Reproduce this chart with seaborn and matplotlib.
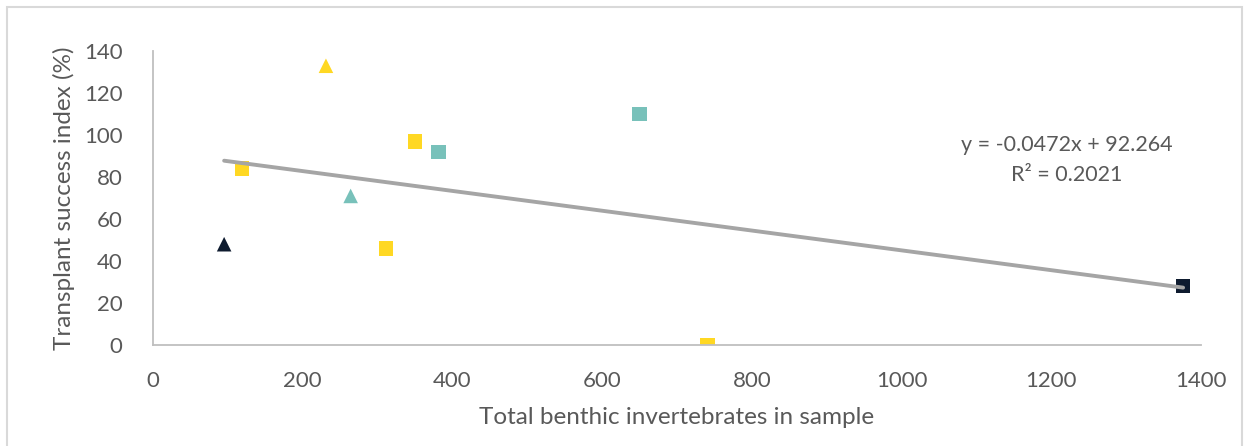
import numpy as np
import pandas as pd
import seaborn as sns
import matplotlib.pyplot as plt
from matplotlib.patches import Rectangle

# values
invertebrates = [95, 119, 231, 264, 311, 350, 381, 650, 741, 1376]
success_index = [48, 84, 133, 71, 46, 97, 92, 110, 0, 28]
site = ["dark", "yellow", "yellow", "teal", "yellow", "yellow", "teal", "teal", "yellow", "dark"]
shape = ["triangle", "square", "triangle", "triangle", "square", "square", "square", "square", "square", "square"]

slope = -0.0472
intercept = 92.264
r_squared = 0.2021

df = pd.DataFrame({"x": invertebrates, "y": success_index, "site": site, "shape": shape})

palette = {"yellow": "#FFD823", "teal": "#78C1BA", "dark": "#0E1B2F"}
markers = {"square": "s", "triangle": "^"}

sns.set_style("white")
plt.rcParams['font.family'] = ['Lato', 'DejaVu Sans']

fig = plt.figure(figsize=(12.44, 4.46), dpi=100)
ax = fig.add_axes([0.123, 0.2265, 0.8425, 0.659])

trend_x = np.array([min(invertebrates), max(invertebrates)])
trend = pd.DataFrame({"x": trend_x, "y": slope * trend_x + intercept})
sns.lineplot(data=trend, x="x", y="y", color="#A5A5A5", linewidth=2.8, ax=ax, zorder=3)

sns.scatterplot(data=df, x="x", y="y", hue="site", style="shape", palette=palette,
                markers=markers, s=110, linewidth=0, legend=False, ax=ax, zorder=2)

ax.set_xlim(0, 1400)
ax.set_ylim(0, 140)
ax.set_xticks(range(0, 1401, 200))
ax.set_yticks(range(0, 141, 20))
ax.tick_params(axis="both", length=0, labelsize=16, labelcolor="#595959")
ax.tick_params(axis="x", pad=19)
ax.tick_params(axis="y", pad=22)
for s in ["top", "right"]:
    ax.spines[s].set_visible(False)
for s in ["left", "bottom"]:
    ax.spines[s].set_color("#BFBFBF")
    ax.spines[s].set_linewidth(1.3)

ax.set_xlabel("Total benthic invertebrates in sample", fontsize=17.5, color="#595959", labelpad=11)
ax.set_ylabel("Transplant success index (%)", fontsize=17.5, color="#595959", labelpad=6)

ax.text(1220, 95.4, f"y = {slope}x + {intercept}", fontsize=15.5, color="#595959", ha="center", va="center")
ax.text(1220, 81.2, f"R² = {r_squared}", fontsize=15.5, color="#595959", ha="center", va="center")

fig.patches.append(Rectangle((7 / 1244, -0.02), 1235 / 1244, 1 - 7 / 446 + 0.02,
                             transform=fig.transFigure, fill=False,
                             edgecolor="#D9D9D9", linewidth=1.5))

fig.savefig("out.png", dpi=100)
